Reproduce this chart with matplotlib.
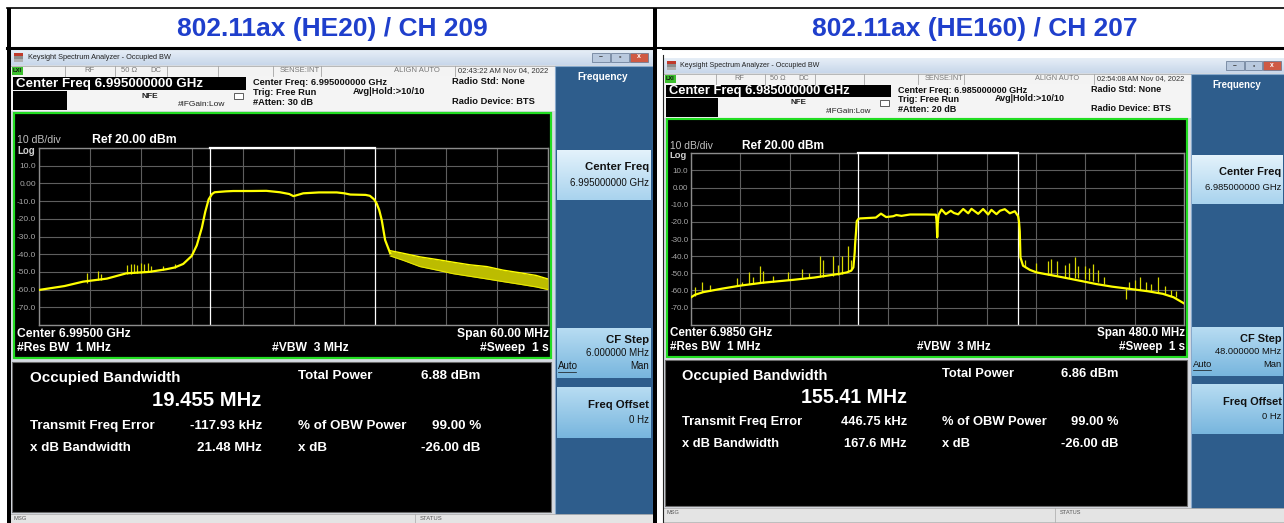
import numpy as np
import matplotlib
matplotlib.use('Agg')
import matplotlib.pyplot as plt
from matplotlib.patches import Rectangle
from matplotlib.colors import to_rgb

plt.rcParams['font.family'] = ['Liberation Sans', 'DejaVu Sans']

W, H = 1284, 523

# ---------------- HE20 / CH 209 ----------------
he20_title = '802.11ax (HE20) / CH 209'
he20_center_ghz = 6.995
he20_span_mhz = 60.0
he20_atten_db = 30
he20_time = '02:43:22 AM Nov 04, 2022'
he20_center_label = 'Center 6.99500 GHz'
he20_span_label = 'Span 60.00 MHz'
he20_cf_step = '6.000000 MHz'
he20_obw_mhz = 19.455
he20_total_power = 6.88
he20_freq_err_khz = -117.93
he20_xdb_bw_mhz = 21.48

# trace, offset from center (MHz) / level (dBm)
he20_trace_f = [-30, -27, -24.8, -22, -19.7, -17, -15, -14, -13, -12, -11.4,
                -10.8, -10.4, -10, -9.6, -9.3, -8, -7.1, -5, -3.2, -1.6, -0.5,
                0, 0.5, 1.15, 3, 5.1, 6, 6.7, 8.5, 9.0, 9.5, 9.8, 10.1, 10.4,
                10.8, 11.4]
he20_trace_db = [-60.2, -58, -55.5, -53.8, -50.8, -50, -48.5, -47.5, -45.5,
                 -41, -35, -25, -16, -9, -6, -5, -4.5, -4.3, -4.3, -4.2, -5,
                 -6, -7.2, -6.5, -5.6, -5.1, -5.1, -5.6, -6.3, -6.5, -7, -9,
                 -11.3, -15, -20.7, -32, -39.5]
# noisy skirt above the channel: upper / lower edge
he20_band_f = [11.4, 12.95, 14.9, 16.9, 18.8, 20.8, 22.8, 24.7, 26.7, 28.6, 30]
he20_band_hi = [-38, -39.5, -41.5, -43, -44.5, -46, -47, -49, -50.5, -52, -54]
he20_band_lo = [-41, -43.5, -47, -49, -51, -52.5, -54, -55.5, -57, -58.5, -60]
# spurs: frequency, foot, peak
he20_spur_f = [-24.4, -23.0, -22.7, -19.6, -19.2, -18.8, -18.4, -18.0, -17.6,
               -17.2, -16.8, -15.4, -14.0]
he20_spur_lo = [-56, -54.5, -54.5, -51, -51, -50.5, -50.5, -50.5, -50, -50,
                -50, -49, -48]
he20_spur_hi = [-50.5, -49.5, -51, -46, -45.5, -45.5, -46, -45.2, -45.5, -45,
                -46.5, -46.5, -45.5]

# ---------------- HE160 / CH 207 ----------------
he160_title = '802.11ax (HE160) / CH 207'
he160_center_ghz = 6.985
he160_span_mhz = 480.0
he160_atten_db = 20
he160_time = '02:54:08 AM Nov 04, 2022'
he160_center_label = 'Center 6.9850 GHz'
he160_span_label = 'Span 480.0 MHz'
he160_cf_step = '48.000000 MHz'
he160_obw_mhz = 155.41
he160_total_power = 6.86
he160_freq_err_khz = 446.75
he160_xdb_bw_mhz = 167.6

he160_trace_f = [-240, -236, -228, -210, -192, -170, -140, -120, -107.7, -95,
                 -88.3, -84, -81.9, -80.6, -80.2, -79.2, -78.6, -77, -75.4,
                 -60, -55, -50, -43, -40, -35, -26.7, -10.5, -1.5, -0.8, -0.2,
                 0.4, 1.2, 4, 8.2, 13, 16, 20.2, 25.1, 30, 33.2, 39.7, 44.5,
                 49.4, 52.6, 57.5, 61, 65.6, 70.5, 75.4, 78.6, 79.5, 80.2,
                 80.9, 83.4, 90, 96.5, 110, 122.3, 140, 154.8, 170, 187.2,
                 205, 219.6, 230, 240]
he160_trace_db = [-64, -62.5, -61, -59, -57.2, -55.5, -53.8, -52.5, -51.4,
                  -50.3, -49.5, -48.5, -46.6, -38, -33, -25, -19.6, -18.3, -18,
                  -17.5, -15.2, -17.2, -16.7, -16, -16.5, -15.7, -15.7, -15.8,
                  -20, -29, -20, -15.8, -12.8, -15.5, -13.5, -14.8, -15.6,
                  -12.5, -15, -12.4, -15.3, -12.5, -15.7, -13, -15.5, -13.5,
                  -12.6, -15, -13.8, -16.7, -20, -25.4, -40.8, -45.6, -48,
                  -49.5, -51, -52.4, -54.5, -56.3, -57.8, -59.1, -60.5, -62,
                  -64, -67.5]
he160_spur_f = [-236, -229, -222, -195, -190, -184, -180, -173, -170, -160,
                -146, -132, -125, -114.3, -111, -101.3, -97, -93.2, -86.7,
                -84, 85, 96, 108, 111, 116, 124, 128, 133.7, 137, 143.4, 148,
                151.5, 156, 162, 184, 187, 192, 196.9, 203, 208, 214.7, 222,
                228, 232]
he160_spur_lo = [-63, -61, -60.5, -57.5, -57, -56.5, -56, -55.5, -55.5, -55,
                 -54, -53.5, -53, -52, -52, -51.5, -51, -50.5, -49.5, -48,
                 -46.5, -49.5, -51, -51, -51.2, -52, -52.5, -53, -53, -53.5,
                 -54, -54.5, -55, -56, -65, -58.5, -59, -59.5, -60, -60.5,
                 -61, -62, -63, -64]
he160_spur_hi = [-58, -55.3, -57, -53, -55, -49.5, -52, -45.6, -48.5, -51.5,
                 -49.5, -47.6, -50, -39.8, -42, -39.8, -45, -39.8, -34, -42,
                 -42, -44, -43, -41.8, -43, -45, -44, -40.4, -46, -45.6, -47,
                 -44.7, -48, -52, -58.5, -55.3, -54, -52.4, -55, -56, -52.4,
                 -57.5, -60, -60.5]

YTICKS = [20, 10, 0, -10, -20, -30, -40, -50, -60, -70, -80]
YTICK_LABELS = ['', '10.0', '0.00', '-10.0', '-20.0', '-30.0', '-40.0',
                '-50.0', '-60.0', '-70.0', '']


def draw_screen(fig, ui, x0, y0, s, d):
    def P(lx, ly):
        return x0 + s * lx, y0 + s * ly

    def box(lx0, ly0, lx1, ly1, fc, ec='none', lw=0.0, z=1):
        X0, Y0 = P(lx0, ly0)
        X1, Y1 = P(lx1, ly1)
        ui.add_patch(Rectangle((X0, Y0), X1 - X0, Y1 - Y0, fc=fc, ec=ec,
                               lw=lw, zorder=z))

    def grad(lx0, ly0, lx1, ly1, c0, c1, z=1.5):
        X0, Y0 = P(lx0, ly0)
        X1, Y1 = P(lx1, ly1)
        t = np.linspace(0, 1, 32)[:, None, None]
        img = np.array(to_rgb(c0)) * (1 - t) + np.array(to_rgb(c1)) * t
        ui.imshow(img, extent=(X0, X1, Y1, Y0), aspect='auto',
                  interpolation='bilinear', zorder=z)

    def txt(lx, ly, text, size, color='white', weight='bold', ha='left'):
        X, Y = P(lx, ly)
        ui.text(X, Y, text, fontsize=size * s, color=color, fontweight=weight,
                ha=ha, va='center', zorder=5)

    # window body
    box(0, 0, 645, 480, '#d6dbe2')

    # title bar
    grad(0, 1, 645, 16, '#e6eef7', '#c8d7ea')
    box(4, 4, 13, 6.5, '#c0392b', z=2)
    box(4, 7, 13, 9.5, '#8c8c8c', z=2)
    box(4, 10, 13, 12.5, '#b0b0b0', z=2)
    txt(18, 8.5, 'Keysight Spectrum Analyzer - Occupied BW', 5.35,
        color='#222222', weight='normal')
    for bx, fc in [(582, '#b9c9de'), (601, '#b9c9de'), (620, '#cf5a44')]:
        box(bx, 3.5, bx + 18, 12.5, fc, ec='#60738e', lw=0.5, z=2)
    txt(591, 8, '–', 5, color='#333333', ha='center')
    txt(610, 8, '▫', 5, color='#333333', ha='center')
    txt(629, 8, 'x', 5, color='white', ha='center')

    # status row
    box(0, 17, 545, 27, '#f3f3f3', ec='#a5a5a5', lw=0.5)
    box(2, 18, 13, 26, '#3cbf2e', z=2)
    txt(7.5, 22, 'LXI', 4.2, color='#101010', ha='center')
    for sx in [55, 105, 157, 208, 263, 311, 445]:
        X, Y0 = P(sx, 17)
        _, Y1 = P(sx, 27)
        ui.plot([X, X], [Y0, Y1], color='#a5a5a5', lw=0.6, zorder=2)
    txt(79, 22, 'RF', 5.5, color='#777777', weight='normal', ha='center')
    txt(111, 22, '50 Ω', 5.5, color='#777777', weight='normal')
    txt(140, 22, 'DC', 5.5, color='#777777', weight='normal')
    txt(290, 22, 'SENSE:INT', 5.5, color='#777777', weight='normal',
        ha='center')
    txt(407, 22, 'ALIGN AUTO', 5.5, color='#777777', weight='normal',
        ha='center')
    txt(448, 22, d['time'], 5.5, color='#333333', weight='normal')

    # measurement setup header
    box(0, 27, 545, 62, '#f4f4f4')
    box(3, 28, 236, 41, 'black', z=2)
    txt(6, 34.7, 'Center Freq %.9f GHz' % d['center'], 9.6)
    box(3, 42, 57, 61, 'black', z=2)
    txt(140, 47, 'NFE', 6, color='#222222', ha='center')
    txt(168, 56, '#IFGain:Low', 6, color='#222222', weight='normal')
    box(224, 44, 233, 50, 'white', ec='#444444', lw=0.6, z=2)
    txt(243, 33.7, 'Center Freq: %.9f GHz' % d['center'], 6.7,
        color='#111111')
    txt(243, 43.7, 'Trig: Free Run', 6.7, color='#111111')
    txt(243, 53.3, '#Atten: %d dB' % d['atten'], 6.7, color='#111111')
    txt(343, 42.7, 'Avg|Hold:>10/10', 6.7, color='#111111')
    txt(442, 32.7, 'Radio Std: None', 6.7, color='#111111')
    txt(442, 52.7, 'Radio Device: BTS', 6.7, color='#111111')

    # softkey panel
    box(545, 17, 643, 466, '#2e5d8c', ec='#88a9cc', lw=0.8)
    txt(593, 28, 'Frequency', 7.2, ha='center')
    grad(547, 101, 641, 151, '#e3f2fb', '#a9d3ee')
    grad(547, 279, 641, 329, '#b7dcf2', '#78b6de')
    grad(547, 338, 641, 389, '#b7dcf2', '#78b6de')
    txt(639, 118, 'Center Freq', 8.2, color='#111111', ha='right')
    txt(639, 134, '%.9f GHz' % d['center'], 7.0, color='#111111',
        weight='normal', ha='right')
    txt(639, 291, 'CF Step', 8.2, color='#111111', ha='right')
    txt(639, 304, d['cf_step'], 7.0, color='#111111', weight='normal',
        ha='right')
    txt(548, 317, 'Auto', 7.0, color='#111111', weight='normal')
    ux0, uy = P(548, 322.5)
    ux1, _ = P(566, 322.5)
    ui.plot([ux0, ux1], [uy, uy], color='#111111', lw=0.5, zorder=5)
    txt(639, 317, 'Man', 7.0, color='#111111', weight='normal', ha='right')
    txt(639, 356, 'Freq Offset', 8.2, color='#111111', ha='right')
    txt(639, 371, '0 Hz', 7.0, color='#111111', weight='normal', ha='right')

    # spectrum window
    box(4, 64, 541, 309, 'black', ec='#22dd22', lw=1.6 * s, z=2)
    txt(7, 91, '10 dB/div', 7.6, color='#c0c0c0', weight='normal')
    txt(82, 91, 'Ref 20.00 dBm', 8.8)
    txt(7, 101.5, 'Log', 7, color='#d0d0d0')
    txt(7, 285, d['center_label'], 8.7)
    txt(7, 299, '#Res BW  1 MHz', 8.7)
    txt(262, 299, '#VBW  3 MHz', 8.7)
    txt(539, 285, d['span_label'], 8.7, ha='right')
    txt(539, 299, '#Sweep  1 s', 8.7, ha='right')

    gx0, gy0 = P(29, 99)
    gx1, gy1 = P(538, 276)
    ax = fig.add_axes([gx0 / W, 1 - gy1 / H, (gx1 - gx0) / W, (gy1 - gy0) / H])
    ax.set_facecolor('black')
    half = d['span'] / 2
    ax.set_xlim(-half, half)
    ax.set_ylim(-80, 20)
    ax.set_xticks(np.linspace(-half, half, 11))
    ax.set_xticklabels([])
    ax.set_yticks(YTICKS, YTICK_LABELS)
    ax.tick_params(axis='x', length=0)
    ax.tick_params(axis='y', length=0, pad=2 * s, labelsize=6 * s,
                   labelcolor='#a8a8a8')
    ax.grid(True, color='#5e5e5e', lw=0.8)
    ax.set_axisbelow(True)
    for sp in ax.spines.values():
        sp.set_color('#8c8c8c')
        sp.set_linewidth(1.0)

    err = d['freq_err'] / 1000.0
    lo_m, hi_m = err - d['obw'] / 2, err + d['obw'] / 2
    ax.axvline(lo_m, color='white', lw=0.9, zorder=2)
    ax.axvline(hi_m, color='white', lw=0.9, zorder=2)
    ax.plot([lo_m, hi_m], [20, 20], color='white', lw=1.6, zorder=6,
            clip_on=False)

    if d.get('band_f'):
        ax.fill_between(d['band_f'], d['band_lo'], d['band_hi'],
                        color='#bcbc00', lw=0, zorder=3)
        ax.plot(d['band_f'], d['band_hi'], color='#ffff00', lw=1.0, zorder=4)
        ax.plot(d['band_f'], d['band_lo'], color='#e8e800', lw=0.8, zorder=4)
    ax.vlines(d['spur_f'], d['spur_lo'], d['spur_hi'], color='#d8d800',
              lw=0.9, zorder=3)
    ax.plot(d['trace_f'], d['trace_db'], color='#ffff00', lw=1.6, zorder=4)

    # results
    box(2, 313, 541, 463, 'black', ec='#6a6a6a', lw=0.8)
    txt(20, 329, 'Occupied Bandwidth', 10.9)
    txt(197, 351, '%.5g MHz' % d['obw'], 14.6, ha='center')
    txt(288, 327, 'Total Power', 9.6)
    txt(411, 327, '%.2f dBm' % d['power'], 9.6)
    txt(20, 377, 'Transmit Freq Error', 9.6)
    txt(252, 377, '%.2f kHz' % d['freq_err'], 9.6, ha='right')
    txt(288, 377, '% of OBW Power', 9.6)
    txt(471, 377, '99.00 %', 9.6, ha='right')
    txt(20, 399, 'x dB Bandwidth', 9.6)
    txt(252, 399, '%.4g MHz' % d['xdb_bw'], 9.6, ha='right')
    txt(288, 399, 'x dB', 9.6)
    txt(411, 399, '-26.00 dB', 9.6)

    # message bar
    box(0, 465, 645, 480, '#e4e4e4', ec='#a8a8a8', lw=0.5)
    txt(4, 470, 'MSG', 4.2, color='#555555', weight='normal')
    txt(410, 470, 'STATUS', 4.2, color='#555555', weight='normal')
    sx, sy0 = P(405, 465)
    _, sy1 = P(405, 480)
    ui.plot([sx, sx], [sy0, sy1], color='#a8a8a8', lw=0.5, zorder=2)


fig = plt.figure(figsize=(W / 100, H / 100), dpi=100)
fig.patch.set_facecolor('white')
ui = fig.add_axes([0, 0, 1, 1])
ui.set_axis_off()

screens = [
    dict(x0=10, y0=49, s=1.0, title=he20_title, center=he20_center_ghz,
         span=he20_span_mhz, atten=he20_atten_db, time=he20_time,
         center_label=he20_center_label, span_label=he20_span_label,
         cf_step=he20_cf_step, obw=he20_obw_mhz, power=he20_total_power,
         freq_err=he20_freq_err_khz, xdb_bw=he20_xdb_bw_mhz,
         trace_f=he20_trace_f, trace_db=he20_trace_db,
         band_f=he20_band_f, band_hi=he20_band_hi, band_lo=he20_band_lo,
         spur_f=he20_spur_f, spur_lo=he20_spur_lo, spur_hi=he20_spur_hi),
    dict(x0=663, y0=57.5, s=0.968, title=he160_title, center=he160_center_ghz,
         span=he160_span_mhz, atten=he160_atten_db, time=he160_time,
         center_label=he160_center_label, span_label=he160_span_label,
         cf_step=he160_cf_step, obw=he160_obw_mhz, power=he160_total_power,
         freq_err=he160_freq_err_khz, xdb_bw=he160_xdb_bw_mhz,
         trace_f=he160_trace_f, trace_db=he160_trace_db,
         spur_f=he160_spur_f, spur_lo=he160_spur_lo, spur_hi=he160_spur_hi),
]

for d in screens:
    draw_screen(fig, ui, d['x0'], d['y0'], d['s'], d)

# table frame and headers
ui.text(332, 29, he20_title, fontsize=19, color='#1f3fcc',
        fontweight='bold', ha='center', va='center')
ui.text(975, 29, he160_title, fontsize=19, color='#1f3fcc',
        fontweight='bold', ha='center', va='center')
ui.plot([7, W], [8, 8], color='black', lw=1.2, zorder=6)
ui.plot([7, W], [47.5, 47.5], color='black', lw=2.2, zorder=6)
ui.add_patch(Rectangle((7, 8), 4, H - 8, fc='black', zorder=6))
ui.add_patch(Rectangle((653, 8), 4, H - 8, fc='black', zorder=6))
ui.add_patch(Rectangle((657, 48.5), 5, H - 48.5, fc='white', zorder=6))
ui.plot([662.5, 662.5], [55, H], color='#222222', lw=0.8, zorder=6)

ui.set_xlim(0, W)
ui.set_ylim(H, 0)

fig.savefig('out.png', dpi=100, facecolor='white')
